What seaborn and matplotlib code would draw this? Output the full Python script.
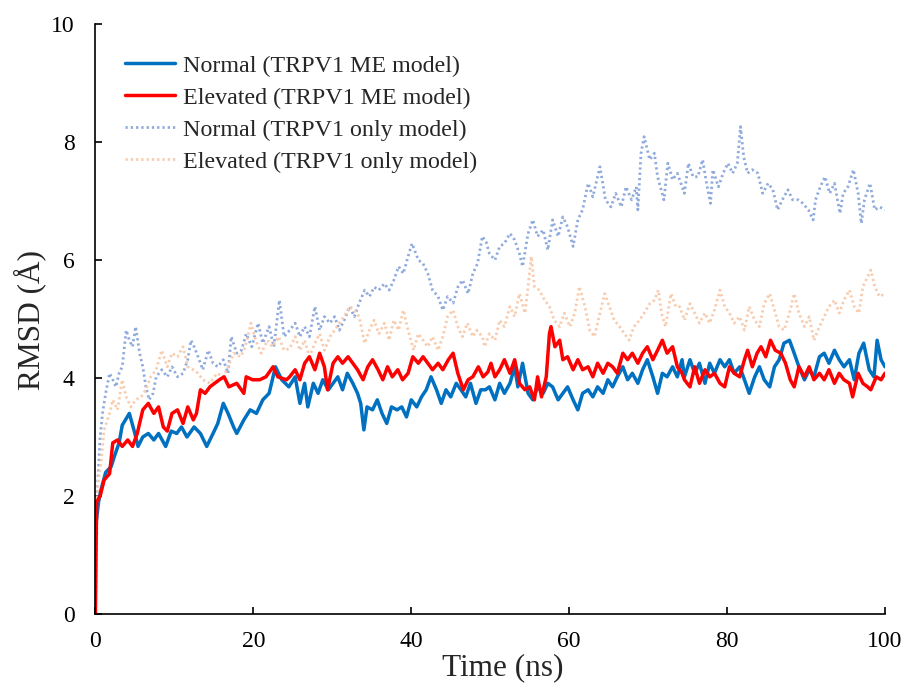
import matplotlib
matplotlib.use("Agg")
import matplotlib.pyplot as plt
import seaborn as sns
import pandas as pd

# ---------------- data ----------------
labels = ["Normal (TRPV1 ME model)", "Elevated (TRPV1 ME model)",
          "Normal (TRPV1 only model)", "Elevated (TRPV1 only model)"]

t_normal_me = [0.1, 0.4, 0.7, 1.3, 2.0, 2.4, 3.0, 3.4, 4.3, 5.0, 5.4, 6.0, 6.7, 7.4, 8.0, 8.9, 9.6,
               10.3, 10.9, 11.6, 12.5, 13.3, 14.1, 14.9, 15.5, 16.2, 16.8, 17.5, 17.9, 18.8, 19.6,
               20.4, 21.2, 22.0, 22.8, 23.6, 24.5, 25.3, 25.9, 26.5, 26.9, 27.6, 28.2, 28.8, 29.5,
               30.1, 30.7, 31.3, 31.9, 32.6, 33.2, 33.6, 34.0, 34.4, 35.1, 35.7, 36.3, 36.9, 37.5,
               38.2, 38.8, 39.4, 40.0, 40.7, 41.3, 41.9, 42.5, 43.2, 43.8, 44.4, 45.0, 45.7, 46.3,
               46.9, 47.5, 48.2, 48.8, 49.4, 49.9, 50.6, 51.2, 51.8, 52.5, 53.1, 53.5, 54.1, 54.8,
               55.4, 56.0, 56.7, 57.3, 57.9, 58.6, 59.2, 59.8, 60.5, 61.1, 61.7, 62.4, 63.0, 63.6,
               64.3, 64.9, 65.5, 66.1, 66.8, 67.4, 68.0, 68.7, 69.3, 69.9, 70.6, 71.2, 71.8, 72.4,
               73.1, 73.7, 74.3, 74.6, 75.3, 75.9, 76.5, 77.2, 77.8, 78.4, 79.1, 79.7, 80.3, 80.9,
               81.6, 82.2, 82.8, 83.5, 84.1, 84.7, 85.4, 86.0, 86.6, 87.2, 87.9, 88.5, 89.1, 89.8,
               90.4, 91.0, 91.7, 92.3, 92.9, 93.6, 94.2, 94.8, 95.5, 96.1, 96.7, 97.3, 98.0, 98.6,
               99.0, 99.5, 100.0]
rmsd_normal_me = [1.55, 1.9, 2.1, 2.4, 2.5, 2.67, 2.9, 3.2, 3.4, 3.06, 2.84, 3.0, 3.06, 2.95, 3.06, 2.84, 3.1,
                  3.06, 3.17, 3.0, 3.17, 3.06, 2.84, 3.06, 3.23, 3.57, 3.4, 3.17, 3.06, 3.29, 3.46,
                  3.4, 3.63, 3.74, 4.19, 3.97, 3.85, 4.02, 3.57, 3.91, 3.51, 3.91, 3.74, 3.97, 3.8,
                  3.91, 4.02, 3.8, 4.08, 3.91, 3.74, 3.57, 3.12, 3.51, 3.46, 3.63, 3.4, 3.23, 3.51,
                  3.46, 3.51, 3.34, 3.63, 3.51, 3.68, 3.8, 4.02, 3.8, 3.57, 3.8, 3.68, 3.91, 3.8,
                  3.68, 3.91, 3.57, 3.8, 3.8, 3.85, 3.63, 3.91, 3.74, 3.91, 4.19, 3.85, 4.25, 3.74,
                  3.63, 3.85, 3.74, 3.91, 3.85, 3.63, 3.74, 3.85, 3.63, 3.46, 3.74, 3.8, 3.68, 3.85,
                  3.74, 3.97, 3.85, 4.02, 4.19, 3.97, 4.08, 3.91, 4.14, 4.31, 4.02, 3.74, 4.08, 4.02,
                  4.19, 4.02, 4.31, 4.02, 4.31, 4.08, 4.25, 3.91, 4.25, 4.08, 4.31, 4.19, 4.31, 4.08,
                  4.19, 3.97, 3.74, 4.02, 4.19, 3.97, 3.85, 4.19, 4.31, 4.59, 4.64, 4.42, 4.19, 3.97,
                  4.14, 4.02, 4.36, 4.42, 4.25, 4.47, 4.31, 4.19, 4.31, 3.97, 4.42, 4.59, 4.14, 4.02,
                  4.64, 4.31, 4.19]

t_elevated_me = [0.0, 0.15, 0.6, 1.1, 1.8, 2.2, 2.8, 3.4, 4.1, 4.7, 5.3, 6.0, 6.7, 7.4, 8.0, 8.6, 9.1,
                 9.7, 10.4, 11.1, 11.7, 12.4, 12.8, 13.3, 13.9, 14.5, 15.1, 15.7, 16.3, 16.9, 17.9,
                 18.8, 19.1, 19.9, 20.8, 21.6, 22.5, 23.1, 24.2, 24.6, 25.3, 25.9, 26.5, 27.1, 27.8,
                 28.4, 29.0, 29.4, 30.1, 30.7, 31.3, 32.0, 32.6, 33.2, 33.9, 34.5, 35.1, 35.8, 36.4,
                 37.0, 37.6, 38.3, 38.9, 39.6, 40.2, 40.9, 41.5, 42.1, 42.7, 43.4, 44.0, 44.7, 45.3,
                 45.9, 46.6, 47.2, 47.8, 48.5, 49.1, 49.7, 50.1, 50.6, 51.2, 51.8, 52.5, 53.1, 53.7,
                 54.4, 55.0, 55.6, 56.0, 56.5, 57.1, 57.5, 57.7, 58.2, 58.8, 59.2, 59.8, 60.5, 61.1,
                 61.7, 62.4, 63.0, 63.6, 64.3, 64.9, 65.5, 66.1, 66.8, 67.4, 68.0, 68.7, 69.3, 69.9,
                 70.6, 71.2, 71.8, 72.4, 73.1, 73.7, 74.3, 74.6, 75.3, 75.9, 76.5, 77.2, 77.8, 78.4,
                 79.1, 79.7, 80.3, 80.9, 81.6, 82.2, 82.6, 83.2, 83.8, 84.3, 84.9, 85.5, 86.1, 86.8,
                 87.4, 88.0, 88.5, 89.1, 89.8, 90.4, 91.0, 91.7, 92.3, 92.9, 93.6, 94.2, 94.8, 95.5,
                 95.9, 96.6, 97.2, 97.8, 98.2, 98.9, 99.5, 100.0]
rmsd_elevated_me = [0.0, 1.9, 2.0, 2.27, 2.38, 2.9, 2.95, 2.84, 2.95, 2.84, 3.06, 3.46, 3.57, 3.4, 3.51, 3.17, 3.1,
                    3.4, 3.46, 3.23, 3.51, 3.29, 3.4, 3.8, 3.74, 3.85, 3.91, 3.97, 4.02, 3.85, 3.91,
                    3.74, 4.02, 3.97, 3.97, 4.02, 4.19, 4.02, 3.97, 4.02, 4.14, 3.97, 4.25, 4.36, 4.14,
                    4.42, 4.19, 3.8, 4.25, 4.36, 4.25, 4.36, 4.25, 4.14, 3.97, 4.19, 4.31, 4.14, 3.97,
                    4.19, 4.02, 4.14, 3.97, 4.08, 4.36, 4.25, 4.36, 4.25, 4.14, 4.25, 4.14, 4.31, 4.42,
                    4.08, 3.8, 3.97, 4.02, 4.19, 4.02, 4.1, 4.25, 4.02, 4.14, 4.31, 4.08, 4.31, 3.91,
                    3.8, 3.85, 3.63, 4.02, 3.68, 4.02, 4.75, 4.87, 4.53, 4.64, 4.31, 4.36, 4.14, 4.31,
                    4.14, 4.19, 4.02, 4.25, 4.08, 4.25, 4.19, 4.08, 4.42, 4.31, 4.42, 4.25, 4.42, 4.53,
                    4.31, 4.47, 4.64, 4.42, 4.53, 4.19, 4.08, 3.97, 3.85, 4.19, 3.91, 4.14, 4.02, 4.08,
                    3.91, 3.85, 4.19, 4.08, 4.02, 4.31, 4.47, 4.19, 4.42, 4.53, 4.36, 4.64, 4.47, 4.42,
                    4.25, 3.97, 3.85, 4.19, 4.02, 4.19, 3.97, 4.08, 3.97, 4.14, 3.91, 4.08, 3.97, 3.91,
                    3.68, 4.08, 3.91, 3.85, 3.8, 4.02, 3.97, 4.08]

t_normal_only = [0.0, 0.2, 0.6, 0.9, 1.3, 1.8, 2.2, 2.6, 3.0, 3.4, 3.9, 4.3, 4.7, 5.1, 5.6, 6.0, 6.4,
                 6.8, 7.3, 7.7, 8.4, 9.1, 9.7, 10.4, 11.1, 11.7, 12.1, 12.5, 13.0, 13.6, 14.3, 14.9,
                 15.5, 16.2, 16.8, 17.2, 17.9, 18.5, 19.1, 19.8, 20.6, 21.2, 22.0, 22.6, 23.3, 23.9,
                 24.6, 25.3, 25.9, 26.5, 27.1, 27.8, 28.4, 29.0, 29.7, 30.3, 30.9, 31.5, 32.2, 32.8,
                 33.4, 34.1, 34.7, 35.3, 35.9, 36.6, 37.2, 37.8, 38.4, 39.0, 39.6, 40.1, 40.9, 41.5,
                 42.1, 42.7, 43.4, 44.0, 44.6, 45.3, 45.9, 46.5, 47.2, 47.8, 48.4, 49.0, 49.5, 49.9,
                 50.6, 51.2, 51.8, 52.5, 53.1, 53.7, 54.1, 54.8, 55.4, 56.0, 56.7, 57.3, 57.9, 58.6,
                 59.2, 59.8, 60.5, 61.1, 61.7, 62.4, 63.0, 63.6, 63.9, 64.6, 65.3, 65.9, 66.6, 67.2,
                 67.9, 68.5, 68.7, 69.1, 69.5, 70.2, 70.8, 71.2, 72.0, 72.5, 73.1, 73.7, 74.3, 74.6,
                 75.1, 75.7, 76.3, 76.9, 77.4, 77.9, 78.2, 78.9, 79.5, 80.1, 80.7, 81.3, 81.7, 82.1,
                 82.6, 83.2, 83.9, 84.5, 85.2, 85.8, 86.4, 87.0, 87.7, 88.3, 89.0, 89.6, 90.3, 90.9,
                 91.2, 91.8, 92.4, 93.0, 93.6, 94.3, 94.7, 95.3, 96.0, 96.6, 97.0, 97.4, 98.1, 98.7,
                 99.3, 100.0]
rmsd_normal_only = [0.0, 2.0, 3.0, 3.4, 3.74, 4.08, 3.97, 3.85, 4.08, 4.19, 4.81, 4.64, 4.53, 4.87, 4.42, 4.19, 3.85,
                    3.63, 3.74, 4.02, 4.14, 4.02, 4.19, 4.02, 4.08, 4.31, 4.64, 4.53, 4.36, 4.14, 4.47, 4.25,
                    4.19, 4.31, 4.08, 4.7, 4.42, 4.47, 4.75, 4.53, 4.93, 4.59, 4.87, 4.53, 5.32, 4.7,
                    4.81, 4.93, 4.7, 4.87, 4.7, 5.21, 4.81, 5.04, 4.93, 5.04, 4.81, 4.98, 5.21, 5.04,
                    5.27, 5.49, 5.38, 5.54, 5.49, 5.6, 5.49, 5.66, 5.89, 5.77, 6.06, 6.28, 6.0, 5.94,
                    5.77, 5.49, 5.38, 5.15, 5.38, 5.27, 5.54, 5.66, 5.43, 5.77, 5.94, 6.4, 6.3, 6.11,
                    6.0, 6.23, 6.28, 6.45, 6.34, 6.11, 5.89, 6.45, 6.68, 6.4, 6.51, 6.17, 6.68, 6.4,
                    6.73, 6.56, 6.23, 6.68, 6.85, 7.3, 7.07, 7.41, 7.58, 7.02, 6.9, 7.13, 6.9, 7.24,
                    7.02, 7.24, 6.85, 7.81, 8.09, 7.7, 7.81, 7.41, 7.02, 7.64, 7.36, 7.47, 7.24, 7.13,
                    7.64, 7.41, 7.41, 7.7, 7.3, 6.96, 7.53, 7.24, 7.47, 7.64, 7.47, 7.64, 8.26, 7.75,
                    7.47, 7.53, 7.47, 7.13, 7.3, 7.19, 6.85, 7.02, 7.19, 7.02, 7.02, 6.96, 6.85, 6.68,
                    7.02, 7.24, 7.41, 7.13, 7.3, 6.79, 7.13, 7.24, 7.53, 7.13, 6.62, 7.02, 7.3, 6.85,
                    6.9, 6.85]

t_elevated_only = [0.0, 0.3, 0.7, 1.1, 1.8, 2.2, 2.8, 3.4, 3.9, 4.5, 5.1, 5.8, 6.4, 7.0, 7.7, 8.4, 9.1,
                   9.7, 10.4, 11.1, 11.7, 12.4, 13.0, 13.6, 14.5, 15.4, 16.2, 16.8, 17.5, 18.4, 19.0,
                   19.7, 20.3, 21.0, 21.8, 22.4, 23.2, 23.9, 24.6, 25.3, 25.9, 26.5, 27.1, 27.8, 28.4,
                   29.0, 29.7, 30.3, 30.9, 31.5, 32.2, 32.8, 33.4, 34.1, 34.7, 35.3, 35.9, 36.6, 37.2,
                   37.8, 38.4, 39.0, 39.6, 40.3, 40.9, 41.5, 42.1, 42.7, 43.4, 44.0, 44.6, 45.3, 45.9,
                   46.5, 47.1, 47.8, 48.3, 49.0, 49.3, 49.9, 50.6, 51.2, 51.8, 52.5, 53.1, 53.7, 54.4,
                   54.8, 55.2, 55.6, 56.2, 56.9, 57.5, 58.1, 58.8, 59.4, 60.1, 60.7, 61.3, 62.0, 62.6,
                   63.2, 63.9, 64.5, 65.1, 65.7, 66.4, 67.0, 67.6, 68.2, 68.9, 69.5, 70.2, 70.8, 71.3,
                   71.7, 72.2, 72.9, 73.5, 74.0, 74.6, 75.3, 75.9, 76.5, 77.2, 77.8, 78.4, 79.1, 79.7,
                   80.3, 80.9, 81.6, 82.2, 82.8, 83.5, 84.1, 84.7, 85.4, 86.0, 86.6, 87.2, 87.9, 88.5,
                   89.1, 89.8, 90.4, 91.0, 91.7, 92.3, 92.9, 93.6, 94.2, 94.8, 95.5, 96.1, 96.7, 97.2,
                   97.8, 98.2, 98.7, 99.3, 100.0]
rmsd_elevated_only = [0.0, 2.2, 2.55, 3.12, 3.4, 3.63, 3.46, 3.97, 3.68, 3.51, 3.63, 3.68, 3.8, 4.02, 4.14, 4.47, 4.19,
                      4.42, 4.36, 4.53, 4.19, 4.14, 4.08, 3.97, 3.91, 4.08, 4.02, 4.19, 4.42, 4.36, 4.53,
                      4.93, 4.64, 4.42, 4.64, 4.53, 4.7, 4.47, 4.5, 4.7, 4.47, 4.64, 4.36, 4.59, 4.75,
                      4.47, 4.7, 4.81, 4.93, 5.04, 5.21, 5.15, 5.04, 4.59, 4.81, 4.98, 4.75, 4.93, 4.64,
                      4.98, 4.81, 5.15, 4.81, 4.47, 4.75, 4.64, 4.53, 4.7, 4.47, 4.7, 5.04, 5.15, 4.87,
                      4.7, 4.93, 4.7, 4.81, 4.7, 4.53, 4.75, 4.64, 4.98, 4.87, 5.21, 5.04, 5.43, 5.1,
                      5.55, 6.06, 5.55, 5.49, 5.32, 5.21, 4.98, 4.87, 5.1, 4.87, 5.1, 5.55, 5.21, 4.81,
                      4.7, 5.1, 5.43, 5.21, 4.98, 4.87, 4.75, 4.64, 4.87, 4.98, 5.1, 5.26, 5.32, 5.49,
                      5.1, 4.87, 5.43, 5.21, 5.21, 4.98, 5.26, 5.1, 4.93, 5.1, 4.93, 5.15, 5.49, 5.21,
                      5.1, 4.93, 5.04, 4.81, 5.21, 4.98, 4.87, 5.26, 5.43, 5.15, 4.87, 4.81, 5.1, 5.43,
                      5.1, 4.87, 5.04, 4.64, 4.87, 5.04, 5.21, 5.32, 5.1, 5.32, 5.49, 5.21, 5.1, 5.55,
                      5.72, 5.83, 5.55, 5.38, 5.43]

x_ticks = [0, 20, 40, 60, 80, 100]
y_ticks = [0, 2, 4, 6, 8, 10]

# ---------------- style ----------------
sns.set_style("ticks")
plt.rcParams["font.family"] = ["Liberation Serif", "DejaVu Serif"]

W, H = 902, 688
fig = plt.figure(figsize=(W / 100, H / 100), dpi=100)
ax = fig.add_axes([95.4 / W, 74 / H, (885 - 95.4) / W, (614 - 24) / H])

c_blue = "#0070C0"
c_red = "#FF0000"
c_lblue = "#8FAADC"
c_peach = "#F8CBAD"
dot = (0, (0.8, 1.1))

series = [
    (t_normal_only, rmsd_normal_only, c_lblue, dot, 2.0, labels[2]),
    (t_elevated_only, rmsd_elevated_only, c_peach, dot, 2.0, labels[3]),
    (t_normal_me, rmsd_normal_me, c_blue, "-", 2.5, labels[0]),
    (t_elevated_me, rmsd_elevated_me, c_red, "-", 2.5, labels[1]),
]
handles = {}
for tt, vv, col, ls, lw, lab in series:
    df = pd.DataFrame({"Time": tt, "RMSD": vv})
    sns.lineplot(data=df, x="Time", y="RMSD", ax=ax, color=col, linewidth=lw,
                 linestyle=ls, estimator=None, sort=False, label=lab)
    handles[lab] = ax.get_lines()[-1]

ax.set_xlim(0, 100)
ax.set_ylim(0, 10)
ax.set_xticks(x_ticks)
ax.set_yticks(y_ticks)
ax.tick_params(axis="both", direction="in", length=5, width=1.2, labelsize=17, colors="black")
ax.tick_params(axis="y", pad=15)
ax.tick_params(axis="x", pad=12)
for s in ["top", "right"]:
    ax.spines[s].set_visible(False)
for s in ["left", "bottom"]:
    ax.spines[s].set_linewidth(1.2)
    ax.spines[s].set_color("black")

ax.set_xlabel("Time (ns)", fontsize=22.5)
ax.set_ylabel("RMSD (Å)", fontsize=22.5)
ax.xaxis.set_label_coords(503 / W, 1 - 668 / H, transform=fig.transFigure)
ax.xaxis.label.set_verticalalignment("center")
ax.yaxis.set_label_coords(30 / W, 1 - 320 / H, transform=fig.transFigure)
ax.yaxis.label.set_verticalalignment("center")

leg = ax.legend([handles[l] for l in labels], labels, loc="upper left",
                bbox_to_anchor=(125 / W, 1 - 55 / H), bbox_transform=fig.transFigure,
                frameon=False, fontsize=17.3, handlelength=2.08, handletextpad=0.33,
                labelspacing=0.42, borderpad=0, borderaxespad=0)

fig.savefig("out.png", dpi=100, facecolor="white")
